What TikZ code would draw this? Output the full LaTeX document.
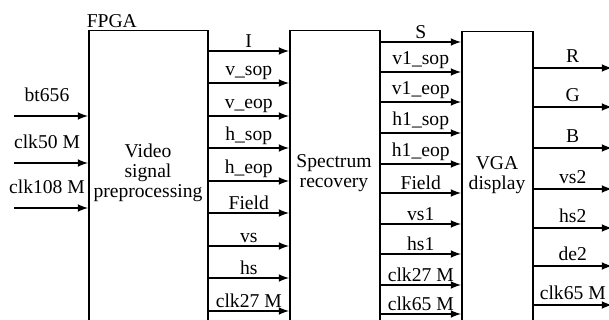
\documentclass[tikz,border=0pt]{standalone}
\usepackage{fontspec}
\setmainfont{Liberation Serif}
\usetikzlibrary{positioning}

\begin{document}
\begin{tikzpicture}[x=0.5pt, y=-0.5pt, line width=0.75pt,
        font=\fontsize{9.8}{10}\selectfont,
        blk/.style={draw, rectangle, anchor=north west, inner sep=0pt},
        sig/.style={-latex},
        lbl/.style={above, inner sep=1.5pt}]
        \useasboundingbox (0,0) rectangle (609,320);
        \clip (0,0) rectangle (609,320);
        % blocks
        \node[blk, minimum width=59.5pt, minimum height=170pt] (preproc) at (88,30) {};
        \node[blk, minimum width=45pt, minimum height=170pt] (recov) at (289,30) {};
        \node[blk, minimum width=35.5pt, minimum height=170pt] (vga) at (461,31) {};
        \node[align=center] (preproctxt) at (148,173) {Video\\signal\\preprocessing};
        \node[align=center] (recovtxt) at (334,173) {Spectrum\\recovery};
        \node[align=center] (vgatxt) at (497,175) {VGA\\display};
        \node[anchor=south west, inner sep=1pt] (fpga) at ([xshift=-2pt]preproc.north west) {FPGA};
        % inputs
        \foreach \y/\t [count=\i] in {116/bt656, 163/clk50 M, 208/clk108 M} {
            \coordinate (in\i) at (14,\y);
            \draw[sig] (in\i) -- node[lbl, yshift=5.5pt, xshift=-2pt] {\t} (preproc.west |- in\i);
        }
        % preprocessing -> recovery
        \foreach \y/\t in {51/I, 83/v\_sop, 116/v\_eop, 148/h\_sop, 181/h\_eop,
                213/Field, 246/vs, 278/hs, 311/clk27 M} {
            \draw[sig] (preproc.east |- 0,\y) -- node[lbl] {\t} (recov.west |- 0,\y);
        }
        % recovery -> display
        \foreach \y/\t in {42/S, 72/v1\_sop, 102/v1\_eop, 133/h1\_sop, 164/h1\_eop,
                193/Field, 224/vs1, 254/hs1, 285/clk27 M, 314/clk65 M} {
            \draw[sig] (recov.east |- 0,\y) -- node[lbl] {\t} (vga.west |- 0,\y);
        }
        % outputs
        \foreach \y/\t [count=\i] in {68/R, 107/G, 148/B, 189/vs2, 228/hs2, 266/de2, 305/clk65 M} {
            \coordinate (out\i) at (612,\y);
            \draw[sig] (vga.east |- out\i) -- node[lbl, yshift=1pt] {\t} (out\i);
        }
    \end{tikzpicture}
\end{document}
